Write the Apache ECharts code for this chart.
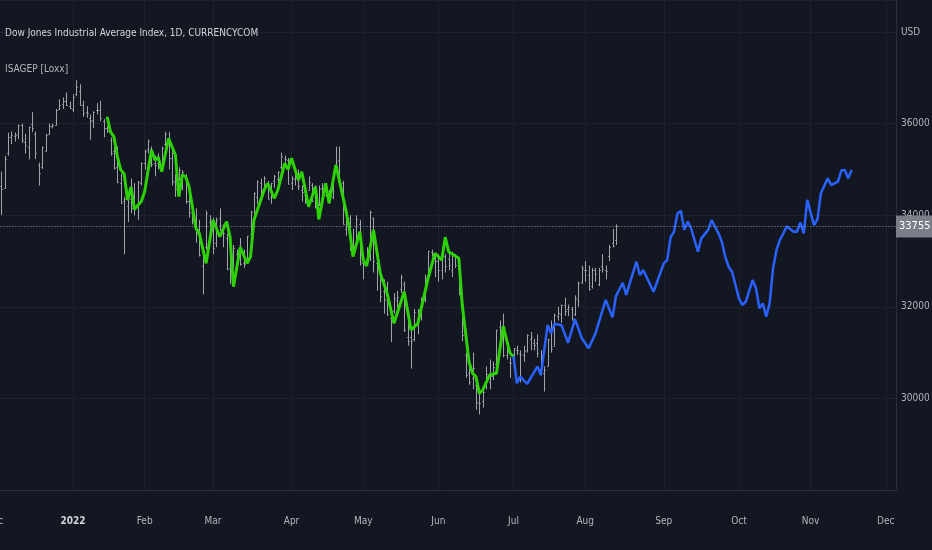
<!DOCTYPE html>
<html><head><meta charset="utf-8">
<script src="https://cdn.jsdelivr.net/npm/echarts/dist/echarts.min.js"></script>
<style>html,body{margin:0;padding:0;background:#131722;}#c{width:932px;height:550px;}</style>
</head><body><div id="c"></div>
<script>
// ---- calendar (weekday bars, as on the source chart) ----
const axisStart = '2021-12-01';
const axisEnd = '2022-12-06';
const firstBarDate = '2021-12-03';
const monthNames = ['2022','Feb','Mar','Apr','May','Jun','Jul','Aug','Sep','Oct','Nov','Dec'];
const yTickLabels = {30000:'30000',32000:'32000',34000:'34000',36000:'36000',38000:'USD'};

// ---- Dow Jones OHLC (daily, Dec 3 2021 .. Aug 12 2022) ----
const barOpen = [
34640,34600,35350,35700,35740,35780,35960,35610,35500,35990,35770,35100,35050,35400,35780,35950,35980,36330,36420,36500,36390,
36320,36640,36720,36400,36250,36120,36050,36300,36300,36050,35900,35650,35400,35050,34700,34300,34200,34350,34350,34200,34700,
35150,35450,35450,35150,35150,35050,35550,35600,35250,34720,34800,34900,34850,34300,34050,33900,33700,32900,33300,33850,
33850,33400,33950,33700,33500,32850,32900,33150,33350,32950,33000,33600,33950,34400,34700,34600,34700,34400,34750,34800,35050,35250,35200,
34700,34800,34900,34550,34450,34550,34650,34400,34250,34600,34450,34400,34400,34950,35200,34700,33700,33950,33300,33400,33800,
32950,33050,33100,33950,32950,32800,32350,32150,31750,31900,32150,32400,32500,31350,31350,31300,31750,31850,32150,32700,33200,33100,
33000,32800,33100,33050,32800,33100,32850,31950,30950,30550,30450,30300,29900,29950,30300,30350,30500,30750,31550,31450,30950,30800,
30750,31050,31000,30950,31050,31300,31200,31200,30650,30550,30700,31450,31150,31800,31850,32050,31950,31950,31850,32150,32550,
32800,32700,32450,32800,32500,32900,32800,33100,33400,33450];
const barHigh = [
34952,35300,35800,35830,35810,35980,36000,35780,35940,36250,35830,35150,35500,35780,36000,36000,36320,36530,36570,36680,36480,
36640,36950,36860,36500,36380,36200,36270,36450,36500,36100,35950,35700,35600,35500,34900,34400,34400,34800,34700,34750,35150,
35430,35650,35500,35300,35350,35500,35820,35820,35400,34900,35050,34980,34900,34500,34150,34150,33900,33300,34100,34000,
33950,33950,34150,33800,33600,33350,33350,33250,33500,33250,33550,34100,34500,34760,34800,34850,34750,34710,34880,34960,35370,35300,35250,
34850,34950,35000,34650,34650,34850,34700,34650,34650,34700,34480,34550,34950,35500,35500,34750,34050,34000,33700,34000,33900,
33100,33300,34100,33950,33000,32850,32600,32550,32000,32300,32350,32700,32550,31700,31500,31950,31950,32200,32700,33220,33250,33150,
33150,33300,33150,33250,33200,33150,32950,32000,31000,30750,31000,30300,30150,30250,30700,30850,30800,31500,31700,31850,31150,30900,
31100,31150,31050,31150,31400,31450,31300,31400,31050,30700,31300,31700,31850,32000,32050,32200,32050,32000,32250,32550,32900,
33000,32900,32850,32850,32850,33150,32900,33350,33700,33800];
const barLow = [
34006,34580,35300,35550,35610,35660,35580,35350,35220,35820,35230,34650,35010,35390,35760,35900,35960,36300,36320,36390,36320,
36250,36600,36400,36150,36130,35650,35900,36200,36050,35700,35800,35300,35000,34700,34250,33150,33850,34050,34000,33900,34650,
35000,35350,35050,34850,35000,34950,35500,35000,34650,34400,34750,34550,34250,33950,33800,33400,33100,32270,33250,33450,
33150,33300,33650,33300,32800,32500,32850,32800,32900,32850,32950,33400,33900,34250,34400,34550,34350,34250,34600,34650,35000,35050,34680,
34550,34650,34550,34300,34250,34550,34300,34150,34200,34400,34400,34250,34350,34950,34750,33800,33550,33220,33200,33300,32900,
32600,32950,33000,32750,32350,32100,31850,31800,31230,31850,31980,32300,31450,31150,30650,31250,31400,31700,32100,32680,33100,32650,
32550,32600,32750,32800,32650,32850,32250,31250,30450,30300,30200,29750,29650,29800,30200,30200,30400,30700,31350,30900,30850,30450,
30650,30950,30350,30800,31000,31050,31050,30900,30500,30150,30700,31000,31150,31700,31650,31800,31800,31700,31800,32000,32500,
32550,32350,32400,32550,32450,32750,32600,33000,33300,33350];
const barClose = [
34580,35227,35719,35755,35754,35971,35651,35544,35927,35898,35365,34932,35493,35754,35951,35960,36302,36398,36488,36398,36338,
36585,36800,36408,36236,36232,36069,36252,36290,36114,35912,35850,35369,35029,34715,34265,34365,34298,34168,34161,34725,35132,
35405,35629,35111,35089,35091,35463,35768,35242,34738,34566,34989,34934,34312,34079,33900,33597,33132,33224,34059,33893,
33295,33891,33795,33615,32818,32633,33286,33174,32944,32945,33544,34063,34481,34754,34553,34808,34358,34708,34861,34955,35294,35228,34678,
34818,34922,34641,34497,34584,34721,34308,34220,34565,34452,34430,34412,34912,35160,34793,33811,34049,33240,33302,33916,32977,
33061,33128,34061,32998,32899,32246,32160,31834,31730,32196,32223,32655,31490,31253,31262,31880,31928,32120,32637,33213,33150,32990,
32813,33248,32899,32916,33180,32910,32272,31393,30516,30365,30668,29927,29889,30150,30530,30483,30677,31500,31438,30947,31029,30775,
31097,31050,30968,31037,31385,31338,31173,30981,30773,30630,31288,31073,31827,31875,32036,31899,31990,31762,32198,32529,32845,
32798,32397,32813,32726,32803,32833,32774,33310,33337,33755];
const lastPrice = 33755;

// ---- ISAGEP [Loxx]: fitted (green) and projected (blue) paths, [bar number, value] ----
const isagepPast = [
[33,36150],[34,35820],[35,35715],[36,35280],[37,34990],[38,34900],[39,34330],[40,34620],[41,34130],[43,34300],[44,34520],
[46,35425],[47,35206],[48,35265],[49,34950],[51,35680],[53,35315],[54,34405],[55,34880],[56,34840],[57,34620],[59,33715],
[60,33605],[62,32950],[64,33895],[66,33530],[68,33860],[69,33530],[70,32440],[72,33300],[74,32950],[75,33095],[76,33895],
[79,34550],[80,34700],[82,34370],[83,34550],[85,35135],[86,35005],[87,35245],[89,34770],[90,34950],[92,34185],[94,34625],
[95,33910],[97,34700],[98,34260],[100,35100],[103,34080],[104,33680],[105,33095],[107,33640],[108,33020],[109,32890],
[111,33680],[113,32730],[115,32295],[117,31640],[120,32330],[122,31495],[124,31640],[125,31970],[127,32625],[129,33170],
[131,33020],[132,33520],[133,33205],[136,33060],[137,32040],[139,30790],[140,30550],[141,30475],[142,30110],[143,30185],
[145,30510],[147,30550],[149,31580],[150,31275],[151,30985],[152,30920]];
const isagepForecast = [
[152,30920],[153,30330],[154,30475],[156,30315],[159,30695],[160,30510],[162,31605],[163,31420],[164,31625],[166,31605],
[168,31215],[170,31730],[172,31315],[174,31095],[176,31420],[179,32150],[181,31770],[182,32235],[184,32525],[185,32260],
[188,32985],[189,32695],[190,32805],[193,32330],[196,32950],[197,33020],[198,33520],[199,33640],[200,34040],[201,34100],
[202,33680],[203,33860],[204,33715],[206,33205],[207,33495],[209,33680],[210,33895],[212,33605],[213,33420],[214,33095],
[215,32875],[216,32765],[218,32185],[219,32040],[220,32110],[222,32585],[223,32405],[224,31970],[225,32075],[226,31785],
[227,32075],[228,32840],[229,33240],[230,33460],[231,33600],[232,33760],[234,33640],[235,33640],[236,33840],[237,33605],
[238,34335],[240,33785],[241,33910],[242,34480],[244,34805],[245,34660],[247,34735],[248,34975],[249,34990],[250,34805],[251,34990]];

// ---- build categories ----
function weekdays(a, b) {
  const out = [];
  let d = new Date(a + 'T00:00:00Z');
  const e = new Date(b + 'T00:00:00Z');
  while (d <= e) {
    const wd = d.getUTCDay();
    if (wd !== 0 && wd !== 6) out.push(d.toISOString().slice(0, 10));
    d = new Date(d.getTime() + 86400000);
  }
  return out;
}
const cats = weekdays(axisStart, axisEnd);
const firstBar = cats.indexOf(firstBarDate);
const bars = barOpen.map((o, i) => [firstBar + i, o, barHigh[i], barLow[i], barClose[i]]);
function isMonthStart(i) {
  if (i === 0) return true;
  return cats[i].slice(5, 7) !== cats[i - 1].slice(5, 7);
}
const FONT = "'Liberation Sans Narrow','DejaVu Sans Condensed','Roboto',sans-serif";
const barColor = '#a0a3ac';

const chart = echarts.init(document.getElementById('c'), null, {renderer: 'canvas'});
chart.setOption({
  animation: false,
  backgroundColor: '#131722',
  title: [
    {text: 'Dow Jones Industrial Average Index, 1D, CURRENCYCOM', left: 5, top: 28, padding: 0,
     textStyle: {color: '#d1d4dc', fontSize: 10, fontWeight: 'normal', fontFamily: FONT}},
    {text: 'ISAGEP [Loxx]', left: 5, top: 64, padding: 0,
     textStyle: {color: '#b2b5be', fontSize: 10, fontWeight: 'normal', fontFamily: FONT}}
  ],
  grid: {left: -5.6, right: 36, top: 0, bottom: 60, containLabel: false, outerBoundsMode: 'none'},
  xAxis: {
    type: 'category', data: cats, boundaryGap: false,
    axisLine: {lineStyle: {color: '#2a2e39'}},
    axisTick: {show: false},
    axisLabel: {
      interval: (i) => isMonthStart(i),
      margin: 26, color: '#b2b5be', fontSize: 10, fontFamily: FONT,
      formatter: (v) => {
        const m = parseInt(v.slice(5, 7), 10);
        if (m === 1) return '{y|' + v.slice(0, 4) + '}';
        return monthNames[m - 1];
      },
      rich: {y: {color: '#d1d4dc', fontSize: 10, fontWeight: 'bold', fontFamily: FONT}}
    },
    splitLine: {show: true, interval: (i) => isMonthStart(i), lineStyle: {color: '#1e222d', width: 1}}
  },
  yAxis: {
    type: 'value', position: 'right', min: 28000, max: 38700, interval: 2000, scale: true,
    axisLine: {show: true, lineStyle: {color: '#2a2e39'}},
    axisTick: {show: false},
    axisLabel: {
      margin: 5, color: '#b2b5be', fontSize: 10, fontFamily: FONT,
      formatter: (v) => yTickLabels[v] || ''
    },
    splitLine: {lineStyle: {color: '#1e222d', width: 1}}
  },
  series: [
    {
      type: 'custom', name: 'DJI', data: bars, encode: {x: 0, y: [1, 2, 3, 4]}, z: 2,
      renderItem: (params, api) => {
        const i = api.value(0);
        const o = api.coord([i, api.value(1)]);
        const h = api.coord([i, api.value(2)]);
        const l = api.coord([i, api.value(3)]);
        const c = api.coord([i, api.value(4)]);
        const w = api.size([1, 0])[0];
        const x = Math.round(o[0]) + 0.5;
        const t = Math.max(1, w * 0.35);
        const st = {stroke: barColor, lineWidth: 1};
        return {type: 'group', children: [
          {type: 'line', shape: {x1: x, y1: h[1], x2: x, y2: l[1]}, style: st},
          {type: 'line', shape: {x1: x - t, y1: Math.round(o[1]) + 0.5, x2: x, y2: Math.round(o[1]) + 0.5}, style: st},
          {type: 'line', shape: {x1: x, y1: Math.round(c[1]) + 0.5, x2: x + t, y2: Math.round(c[1]) + 0.5}, style: st}
        ]};
      }
    },
    {
      type: 'line', name: 'ISAGEP', data: isagepPast, showSymbol: false, symbol: 'none', z: 4,
      lineStyle: {color: '#2DD204', width: 3}
    },
    {
      type: 'line', name: 'Forecast', data: isagepForecast, showSymbol: false, symbol: 'none', z: 4,
      lineStyle: {color: '#2962ff', width: 2.5},
      markLine: {
        silent: true, symbol: 'none', animation: false,
        data: [{yAxis: lastPrice}],
        lineStyle: {color: '#9598a1', type: [1, 2], width: 1},
        label: {
          position: 'end', distance: 0, formatter: String(lastPrice),
          backgroundColor: '#7b7e88', color: '#ffffff', padding: [6, 3, 5, 3],
          fontSize: 11, fontFamily: FONT
        }
      }
    }
  ]
});
</script>
</body></html>
